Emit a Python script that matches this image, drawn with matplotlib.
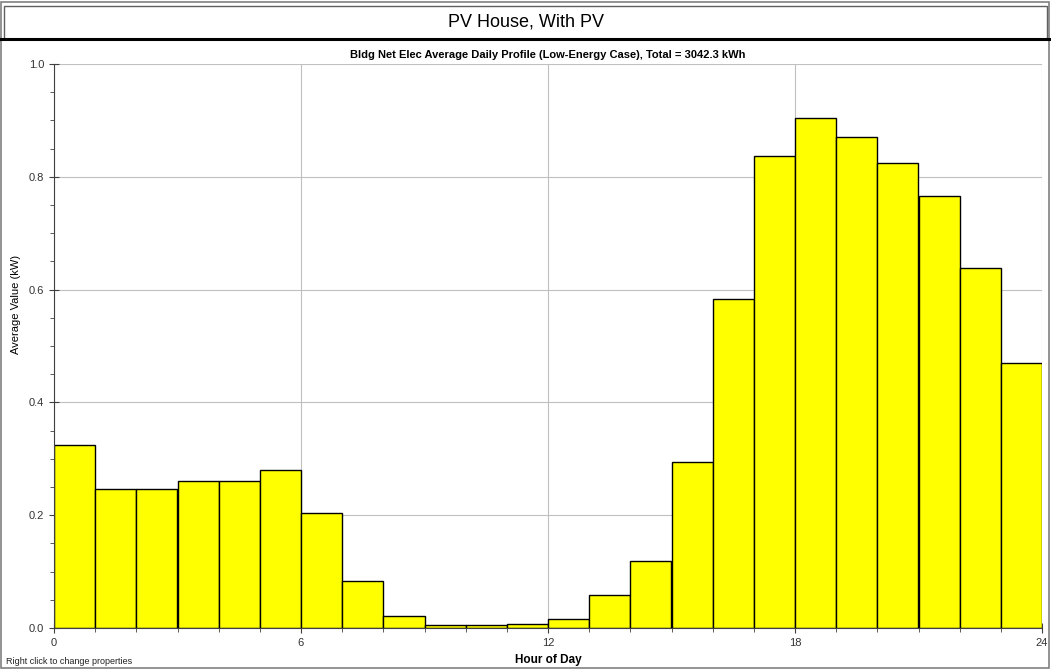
import numpy as np
import matplotlib.pyplot as plt
from matplotlib.patches import Rectangle
from matplotlib.lines import Line2D

hours = np.arange(24)
net_elec = [0.324, 0.246, 0.246, 0.261, 0.261, 0.280, 0.204, 0.083,
            0.021, 0.005, 0.005, 0.007, 0.016, 0.059, 0.119, 0.294,
            0.583, 0.837, 0.904, 0.871, 0.824, 0.766, 0.638, 0.470]
x_major = [0, 6, 12, 18, 24]
y_major = [0.0, 0.2, 0.4, 0.6, 0.8, 1.0]

plt.rcParams['font.family'] = ['Liberation Sans', 'DejaVu Sans']

fig = plt.figure(figsize=(10.51, 6.69), dpi=100)
W, H = 1051, 669

# outer frame and title box
fig.patches.append(Rectangle((1 / W, 1 / H), 1 - 3 / W, 1 - 3 / H, transform=fig.transFigure,
                             fill=False, edgecolor='#808080', linewidth=1.2))
fig.patches.append(Rectangle((4 / W, 1 - 39 / H), 1 - 8 / W, 33 / H, transform=fig.transFigure,
                             fill=False, edgecolor='#606060', linewidth=1))
fig.lines.append(Line2D([1 / W, 1 - 1 / W], [1 - 39 / H, 1 - 39 / H], transform=fig.transFigure,
                        color='black', linewidth=2.2))
fig.text(0.5, 1 - 22 / H, 'PV House, With PV', ha='center', va='center', fontsize=13)

ax = fig.add_axes([54 / W, 1 - 628 / H, 988 / W, 564 / H])
ax.bar(hours, net_elec, width=1.0, align='edge', color='#ffff00',
       edgecolor='black', linewidth=1.0, zorder=3)

ax.set_xlim(0, 24)
ax.set_ylim(0, 1.0)
ax.set_xticks(x_major)
ax.set_xticks(hours, minor=True)
ax.set_yticks(y_major)
ax.set_yticks(np.arange(0, 1.0001, 0.05), minor=True)
ax.set_yticklabels([f'{v:.1f}' for v in y_major])
ax.tick_params(axis='both', which='major', direction='inout', length=7, labelsize=8,
               colors='#404040', labelcolor='#333333')
ax.tick_params(axis='both', which='minor', direction='out', length=3, colors='#404040')
ax.grid(True, which='major', color='#c0c0c0', linewidth=0.8, zorder=0)
ax.set_axisbelow(True)
for s in ['top', 'right']:
    ax.spines[s].set_visible(False)
for s in ['left', 'bottom']:
    ax.spines[s].set_color('#404040')
    ax.spines[s].set_zorder(4)

ax.set_title('Bldg Net Elec Average Daily Profile (Low-Energy Case), Total = 3042.3 kWh',
             fontsize=8, fontweight='bold', pad=4)
ax.set_xlabel('Hour of Day', fontsize=8.5, fontweight='bold')
ax.set_ylabel('Average Value (kW)', fontsize=8)
ax.yaxis.set_label_coords(-33 / 988, 0.573)
ax.xaxis.set_label_coords(0.5, -26 / 564)

fig.text(6 / W, 1 - 661 / H, 'Right click to change properties', fontsize=6.5,
         va='center', ha='left', color='#222222')

fig.savefig('out.png', dpi=100)
